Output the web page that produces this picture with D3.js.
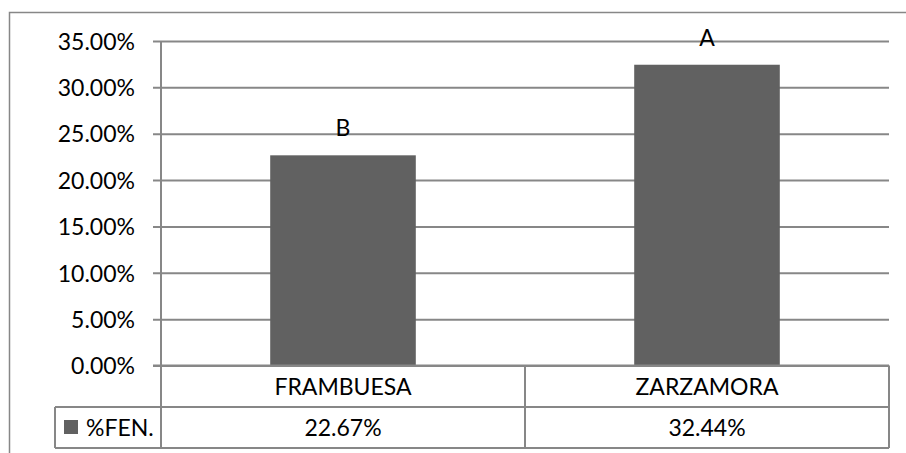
<!DOCTYPE html>
<html>
<head>
<meta charset="utf-8">
<script src="https://cdn.jsdelivr.net/npm/d3@7"></script>
<style>
  body { margin: 0; background: #fff; }
  svg text { font-family: Lato, "Open Sans", sans-serif; fill: #000; }
</style>
</head>
<body>
<svg id="chart" width="906" height="453"></svg>
<script>
const categories = ["FRAMBUESA", "ZARZAMORA"];
const values = [22.67, 32.44];
const letters = ["B", "A"];
const seriesName = "%FEN.";
const yTicks = [0, 5, 10, 15, 20, 25, 30, 35];

const svg = d3.select("#chart");
const grid_col = "#878787";
const bar_col = "#616161";
const fs = 23;

const plotL = 161, plotR = 889, plotT = 41, base = 365.5;
const row1 = 407, row2 = 448, legLeft = 55;

const x = d3.scaleBand().domain(categories).range([plotL, plotR])
    .paddingInner(0.6).paddingOuter(0.3);
const xCell = d3.scaleBand().domain(categories).range([plotL, plotR]);
const y = d3.scaleLinear().domain([0, 35]).range([base, plotT]);

// outer chart border (top + left only visible)
svg.append("path")
    .attr("d", `M9.5,453 V12.5 H906`)
    .attr("fill", "none").attr("stroke", grid_col).attr("stroke-width", 1.5);

// gridlines + ticks
const yAxis = d3.axisLeft(y).tickValues(yTicks)
    .tickSize(-(plotR - plotL)).tickPadding(26)
    .tickFormat(d => d.toFixed(2) + "%");
const gy = svg.append("g").attr("transform", `translate(${plotL},0)`).call(yAxis);
gy.select(".domain").remove();
gy.selectAll(".tick line").attr("x1", -8).attr("stroke", grid_col).attr("stroke-width", 2);
gy.selectAll(".tick text").attr("font-size", fs).attr("dy", "0.36em")
    .style("font-family", "Lato, sans-serif").attr("fill", "#000");

// bars
svg.selectAll("rect.bar").data(values).enter().append("rect")
    .attr("class", "bar")
    .attr("x", (d, i) => x(categories[i]))
    .attr("width", x.bandwidth())
    .attr("y", d => y(d))
    .attr("height", d => base - y(d))
    .attr("fill", bar_col);

// letters above bars
svg.selectAll("text.letter").data(values).enter().append("text")
    .attr("class", "letter")
    .attr("x", (d, i) => x(categories[i]) + x.bandwidth() / 2)
    .attr("y", d => y(d) - 19)
    .attr("text-anchor", "middle").attr("font-size", fs)
    .text((d, i) => letters[i]);

// data table lines
const ln = (x1, y1, x2, y2) => svg.append("line")
    .attr("x1", x1).attr("y1", y1).attr("x2", x2).attr("y2", y2)
    .attr("stroke", grid_col).attr("stroke-width", 2);
ln(plotL, plotT, plotL, row2);
ln(153, base, plotR, base);
ln(legLeft, row1, plotR, row1);
ln(legLeft, row2, plotR, row2);
ln(legLeft, row1, legLeft, row2);
categories.forEach(c => ln(xCell(c) + xCell.bandwidth(), base, xCell(c) + xCell.bandwidth(), row2));

// category row
svg.selectAll("text.cat").data(categories).enter().append("text")
    .attr("class", "cat")
    .attr("x", d => xCell(d) + xCell.bandwidth() / 2)
    .attr("y", (base + row1) / 2).attr("dy", "0.36em")
    .attr("text-anchor", "middle").attr("font-size", fs)
    .text(d => d);

// value row
svg.selectAll("text.val").data(values).enter().append("text")
    .attr("class", "val")
    .attr("x", (d, i) => xCell(categories[i]) + xCell.bandwidth() / 2)
    .attr("y", (row1 + row2) / 2).attr("dy", "0.36em")
    .attr("text-anchor", "middle").attr("font-size", fs)
    .text(d => d.toFixed(2) + "%");

// legend key
svg.append("rect").attr("x", 64).attr("y", 420).attr("width", 14).attr("height", 14).attr("fill", bar_col);
svg.append("text").attr("x", 86).attr("y", (row1 + row2) / 2).attr("dy", "0.36em")
    .attr("font-size", fs).text(seriesName);
</script>
</body>
</html>
